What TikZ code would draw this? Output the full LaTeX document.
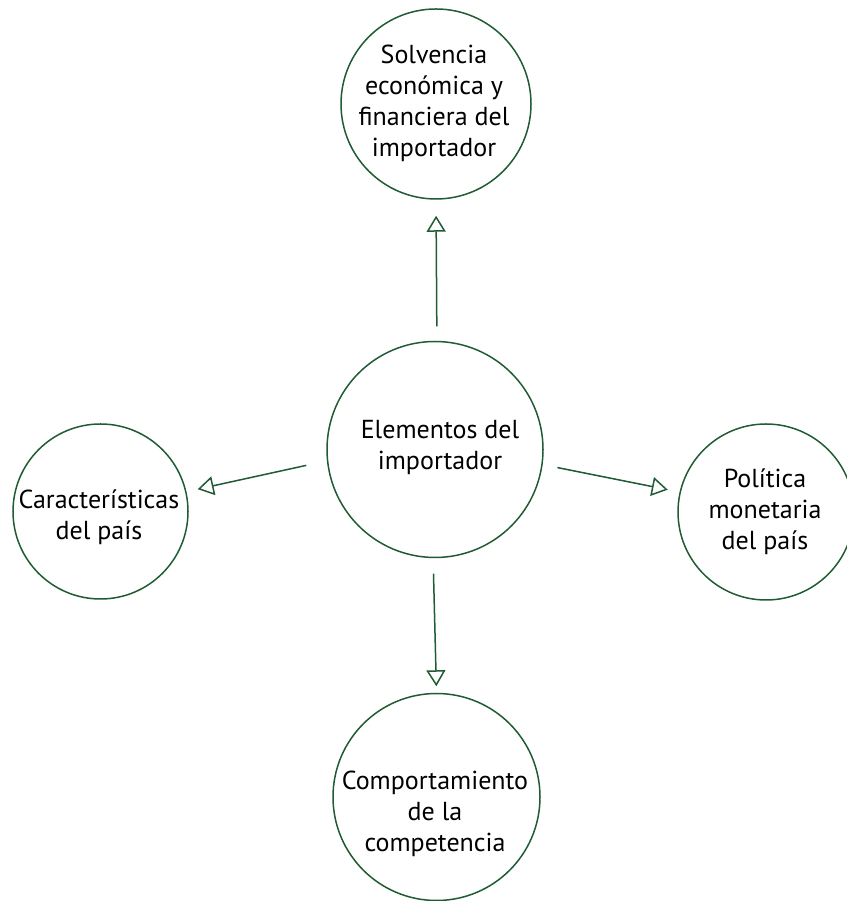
\documentclass[tikz,border=0pt]{standalone}
\usepackage{fontspec}
\setmainfont{PT Sans}
\usetikzlibrary{arrows.meta}
\definecolor{dgreen}{HTML}{1F5C33}
\tikzset{
  circ/.style={circle, draw=dgreen, line width=1.5pt, inner sep=0pt},
  lbl/.style={align=center, font=\fontsize{26}{31}\selectfont, text=black, inner sep=0pt},
  arr/.style={draw=dgreen, line width=1.5pt, -{Triangle[open, length=16pt, width=19pt, line width=1.5pt]}}
}
\begin{document}
\begin{tikzpicture}[x=1pt,y=1pt]
\useasboundingbox (0,0) rectangle (846,901);
\node[circ, minimum size=190pt] (t) at (436,797) {};
\node[circ, minimum size=216pt] (c) at (435,451.5) {};
\node[circ, minimum size=175pt] (l) at (100.5,389.5) {};
\node[circ, minimum size=176pt] (r) at (766,389) {};
\node[circ, minimum size=207pt] (b) at (436.5,104) {};
\node[lbl] (tt) at (434,797.5) {Solvencia\\económica y\\financiera del\\importador};
\node[lbl] (ct) at (440,453) {Elementos del\\importador};
\node[lbl] (lt) at (99,383.5) {Características\\del país};
\node[lbl] (rt) at (765,389) {Política\\monetaria\\del país};
\node[lbl] (bt) at (435,87) {Comportamiento\\de la\\competencia};
\draw[arr, shorten <=14.5pt, shorten >=16pt] (c.89) -- (t.270);
\draw[arr, shorten <=21pt, shorten >=11.5pt] (c.186.9) -- (l.13.1);
\draw[arr, shorten <=15pt, shorten >=12pt] (c.352.8) -- (r.167.9);
\draw[arr, shorten <=15.5pt, shorten >=6.5pt] (c.269) -- (b.90.8);
\end{tikzpicture}
\end{document}
